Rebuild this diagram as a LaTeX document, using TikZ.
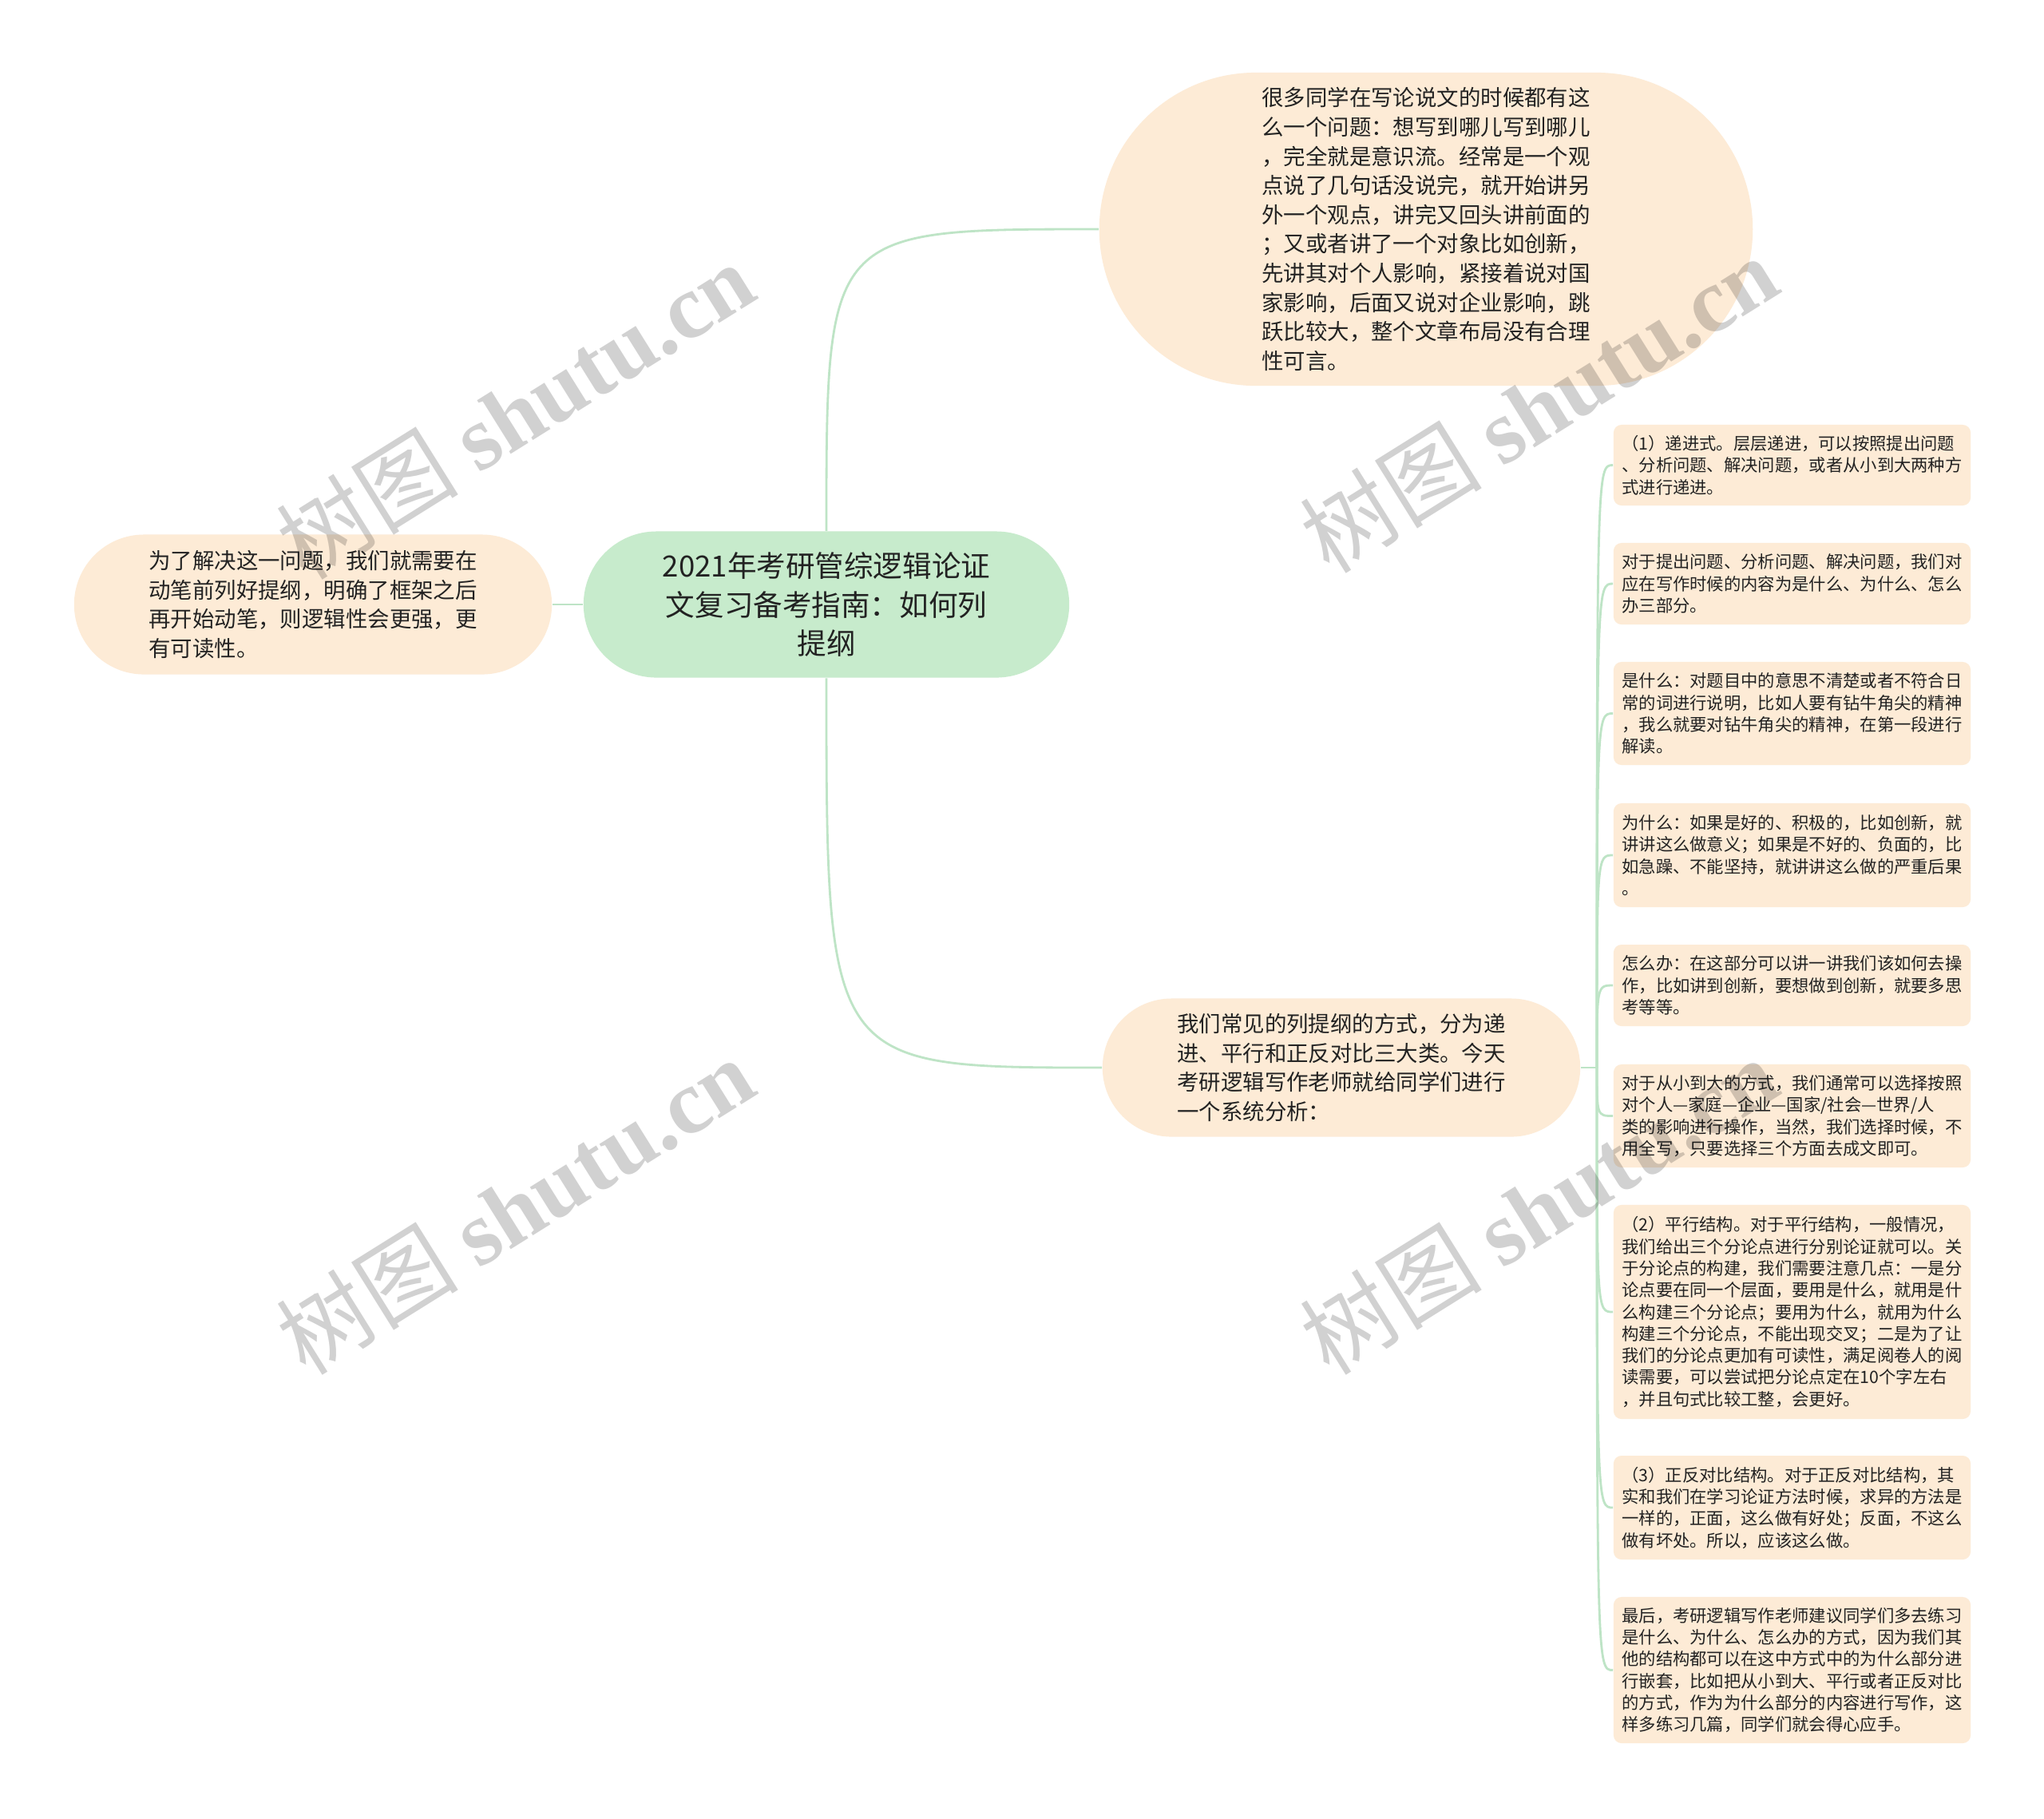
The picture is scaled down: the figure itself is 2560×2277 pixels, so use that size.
\documentclass[tikz,border=0pt]{standalone}
\usepackage{fontspec}
\setmainfont{Noto Sans CJK SC}
\newfontfamily\wmfont{Liberation Serif}
\usetikzlibrary{shapes.misc}
\definecolor{rootgreen}{RGB}{199,235,204}
\definecolor{peach}{RGB}{253,235,214}
\definecolor{linkgreen}{RGB}{190,228,198}
\definecolor{ink}{RGB}{34,34,34}
\tikzstyle{rootnode}=[rounded rectangle,fill=rootgreen,text=ink,inner sep=0pt,
                      align=center,font=\fontsize{10.4pt}{13.9pt}\selectfont]
\tikzstyle{bignode}=[rounded rectangle,fill=peach,text=ink,inner sep=0pt,
                     text width=4.11cm,align=left,
                     font=\fontsize{7.8pt}{10.4pt}\selectfont]
\tikzstyle{leafnode}=[rectangle,rounded corners=0.1cm,fill=peach,text=ink,
                      inner xsep=0.105cm,inner ysep=0pt,text width=4.26cm,
                      align=left,font=\fontsize{6.06pt}{7.77pt}\selectfont]
\tikzstyle{link}=[draw=linkgreen,line width=0.8pt]
\tikzstyle{wmark}=[rotate=32,text=black,text opacity=0.18,
                   font=\fontsize{32.5pt}{32.5pt}\selectfont]

\begin{document}
\begin{tikzpicture}[x=0.01cm,y=-0.01cm]
    \fill[white] (0,0) rectangle (2560,2277);
    \useasboundingbox (0,0) rectangle (2560,2277);
    % centre and the three big notes
    \node[rootnode,minimum width=6.08cm,minimum height=1.83cm] (root) at (1035,757)
      {2021年考研管综逻辑论证\\文复习备考指南：如何列\\提纲};
    \node[bignode,minimum width=8.18cm,minimum height=3.92cm] (top) at (1786,287)
      {很多同学在写论说文的时候都有这\\么一个问题：想写到哪儿写到哪儿\\，完全就是意识流。经常是一个观\\点说了几句话没说完，就开始讲另\\外一个观点，讲完又回头讲前面的\\；又或者讲了一个对象比如创新，\\先讲其对个人影响，紧接着说对国\\家影响，后面又说对企业影响，跳\\跃比较大，整个文章布局没有合理\\性可言。};
    \node[bignode,minimum width=5.98cm,minimum height=1.75cm] (side) at (392,757)
      {为了解决这一问题，我们就需要在\\动笔前列好提纲，明确了框架之后\\再开始动笔，则逻辑性会更强，更\\有可读性。};
    \node[bignode,minimum width=5.98cm,minimum height=1.73cm] (mid) at (1680,1337)
      {我们常见的列提纲的方式，分为递\\进、平行和正反对比三大类。今天\\考研逻辑写作老师就给同学们进行\\一个系统分析：};
    % right column
    \node[leafnode,minimum height=1.01cm] (s1) at (2244.5,582.5)
      {（1）递进式。层层递进，可以按照提出问题\\、分析问题、解决问题，或者从小到大两种方\\式进行递进。};
    \node[leafnode,minimum height=1.02cm] (s2) at (2244.5,731)
      {对于提出问题、分析问题、解决问题，我们对\\应在写作时候的内容为是什么、为什么、怎么\\办三部分。};
    \node[leafnode,minimum height=1.29cm] (s3) at (2244.5,893.5)
      {是什么：对题目中的意思不清楚或者不符合日\\常的词进行说明，比如人要有钻牛角尖的精神\\，我么就要对钻牛角尖的精神，在第一段进行\\解读。};
    \node[leafnode,minimum height=1.30cm] (s4) at (2244.5,1071)
      {为什么：如果是好的、积极的，比如创新，就\\讲讲这么做意义；如果是不好的、负面的，比\\如急躁、不能坚持，就讲讲这么做的严重后果\\。};
    \node[leafnode,minimum height=1.02cm] (s5) at (2244.5,1234)
      {怎么办：在这部分可以讲一讲我们该如何去操\\作，比如讲到创新，要想做到创新，就要多思\\考等等。};
    \node[leafnode,minimum height=1.29cm] (s6) at (2244.5,1397.5)
      {对于从小到大的方式，我们通常可以选择按照\\对个人—家庭—企业—国家/社会—世界/人\\类的影响进行操作，当然，我们选择时候，不\\用全写，只要选择三个方面去成文即可。};
    \node[leafnode,minimum height=2.68cm] (s7) at (2244.5,1643)
      {（2）平行结构。对于平行结构，一般情况，\\我们给出三个分论点进行分别论证就可以。关\\于分论点的构建，我们需要注意几点：一是分\\论点要在同一个层面，要用是什么，就用是什\\么构建三个分论点；要用为什么，就用为什么\\构建三个分论点，不能出现交叉；二是为了让\\我们的分论点更加有可读性，满足阅卷人的阅\\读需要，可以尝试把分论点定在10个字左右\\，并且句式比较工整，会更好。};
    \node[leafnode,minimum height=1.30cm] (s8) at (2244.5,1888)
      {（3）正反对比结构。对于正反对比结构，其\\实和我们在学习论证方法时候，求异的方法是\\一样的，正面，这么做有好处；反面，不这么\\做有坏处。所以，应该这么做。};
    \node[leafnode,minimum height=1.83cm] (s9) at (2244.5,2091.5)
      {最后，考研逻辑写作老师建议同学们多去练习\\是什么、为什么、怎么办的方式，因为我们其\\他的结构都可以在这中方式中的为什么部分进\\行嵌套，比如把从小到大、平行或者正反对比\\的方式，作为为什么部分的内容进行写作，这\\样多练习几篇，同学们就会得心应手。};
    % connectors
    \coordinate (hub) at (2000,1337);
    \draw[link] (root.west) -- (side.east);
    \draw[link] (root.north) .. controls (root.north |- top.west) .. (top.west);
    \draw[link] (root.south) .. controls (root.south |- mid.west) .. (mid.west);
    \draw[link] (mid.east) -- (hub);
    \foreach \i in {1,...,9}
      \draw[link] (hub) .. controls (hub |- s\i.west) .. (s\i.west);
    % watermarks
    \node[wmark] (w1) at (645,514) {树图 {\wmfont\bfseries shutu.cn}};
    \node[wmark] (w2) at (1927,506) {树图 {\wmfont\bfseries shutu.cn}};
    \node[wmark] (w3) at (645,1510) {树图 {\wmfont\bfseries shutu.cn}};
    \node[wmark] (w4) at (1927,1510) {树图 {\wmfont\bfseries shutu.cn}};
\end{tikzpicture}
\end{document}
